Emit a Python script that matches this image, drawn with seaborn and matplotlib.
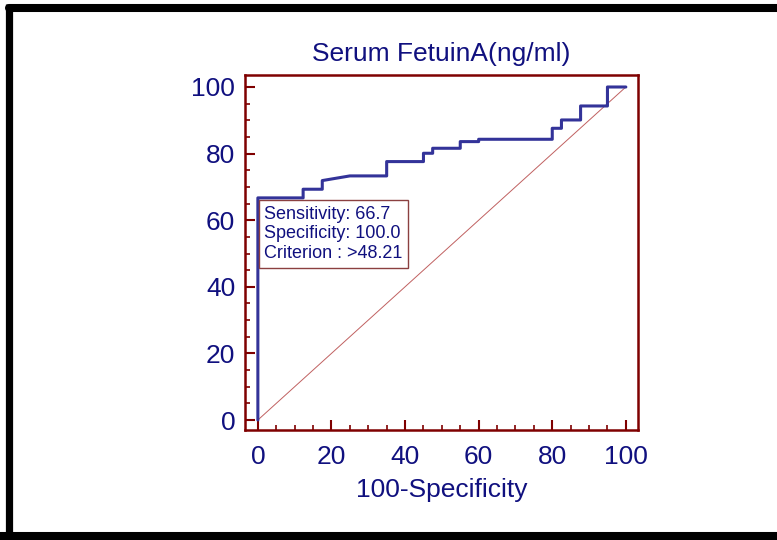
import matplotlib
matplotlib.use("Agg")
import matplotlib.pyplot as plt
import seaborn as sns
import pandas as pd
from matplotlib.lines import Line2D
from matplotlib.ticker import MultipleLocator

# ROC curve points
fpr = [0, 0, 12.3, 12.3, 17.5, 17.5, 25, 35, 35, 45, 45, 47.5, 47.5, 55, 55, 60, 60,
       80, 80, 82.5, 82.5, 87.7, 87.7, 95, 95, 100]
tpr = [0, 66.7, 66.7, 69.3, 69.3, 71.9, 73.3, 73.3, 77.6, 77.6, 80.1, 80.1, 81.6, 81.6,
       83.6, 83.6, 84.3, 84.3, 87.6, 87.6, 90.1, 90.1, 94.3, 94.3, 100, 100]
diag = [0, 100]
ticks = [0, 20, 40, 60, 80, 100]
box_text = ["Sensitivity: 66.7", "Specificity: 100.0", "Criterion : >48.21"]

navy = "#10107f"
curve_col = "#333399"
maroon = "#7f0000"

sns.set_style("white")
plt.rcParams["font.family"] = ["Liberation Sans", "DejaVu Sans"]

roc = pd.DataFrame({"fpr": fpr, "tpr": tpr})

fig = plt.figure(figsize=(7.77, 5.4), dpi=100)
ax = fig.add_axes([0.3153, 0.2037, 0.5058, 0.6574])

ax.plot(diag, diag, color="#c06060", lw=0.7, zorder=1)
sns.lineplot(data=roc, x="fpr", y="tpr", sort=False, estimator=None,
             color=curve_col, lw=2.2, ax=ax, zorder=3)

ax.set_xlim(-3.5, 103.3)
ax.set_ylim(-3.0, 103.6)
ax.set_xticks(ticks)
ax.set_yticks(ticks)
ax.xaxis.set_minor_locator(MultipleLocator(5))
ax.yaxis.set_minor_locator(MultipleLocator(5))
ax.tick_params(which="major", direction="in", length=7, width=1.5, color=maroon,
               labelcolor=navy, labelsize=19, pad=7)
ax.tick_params(axis="x", which="major", pad=10.5)
ax.tick_params(which="minor", direction="in", length=3.5, width=1.2, color=maroon)
ax.tick_params(axis="both", which="both", bottom=True, left=True)
for s in ax.spines.values():
    s.set_color(maroon)
    s.set_linewidth(1.8)

ax.set_title("Serum FetuinA(ng/ml)", color=navy, fontsize=19, pad=10)
ax.set_xlabel("100-Specificity", color=navy, fontsize=19, labelpad=7)
ax.set_ylabel("")

ax.text(1.7, 64.4, "\n".join(box_text), color=navy, fontsize=13, va="top", ha="left",
        linespacing=1.22, zorder=4,
        bbox=dict(boxstyle="square,pad=0.3", fc="white", ec="#8b4040", lw=1.0))

# black frame around the picture (no right edge)
fig.add_artist(Line2D([0.011, 1.0], [1 - 8 / 540, 1 - 8 / 540], color="black", lw=5.8,
                      transform=fig.transFigure))
fig.add_artist(Line2D([8.5 / 777, 8.5 / 777], [0, 1 - 4 / 540], color="black", lw=5.2,
                      solid_capstyle="butt", transform=fig.transFigure))
fig.add_artist(Line2D([0.0, 1.0], [4 / 540, 4 / 540], color="black", lw=5.8,
                      transform=fig.transFigure))

fig.savefig("out.png", dpi=100)
